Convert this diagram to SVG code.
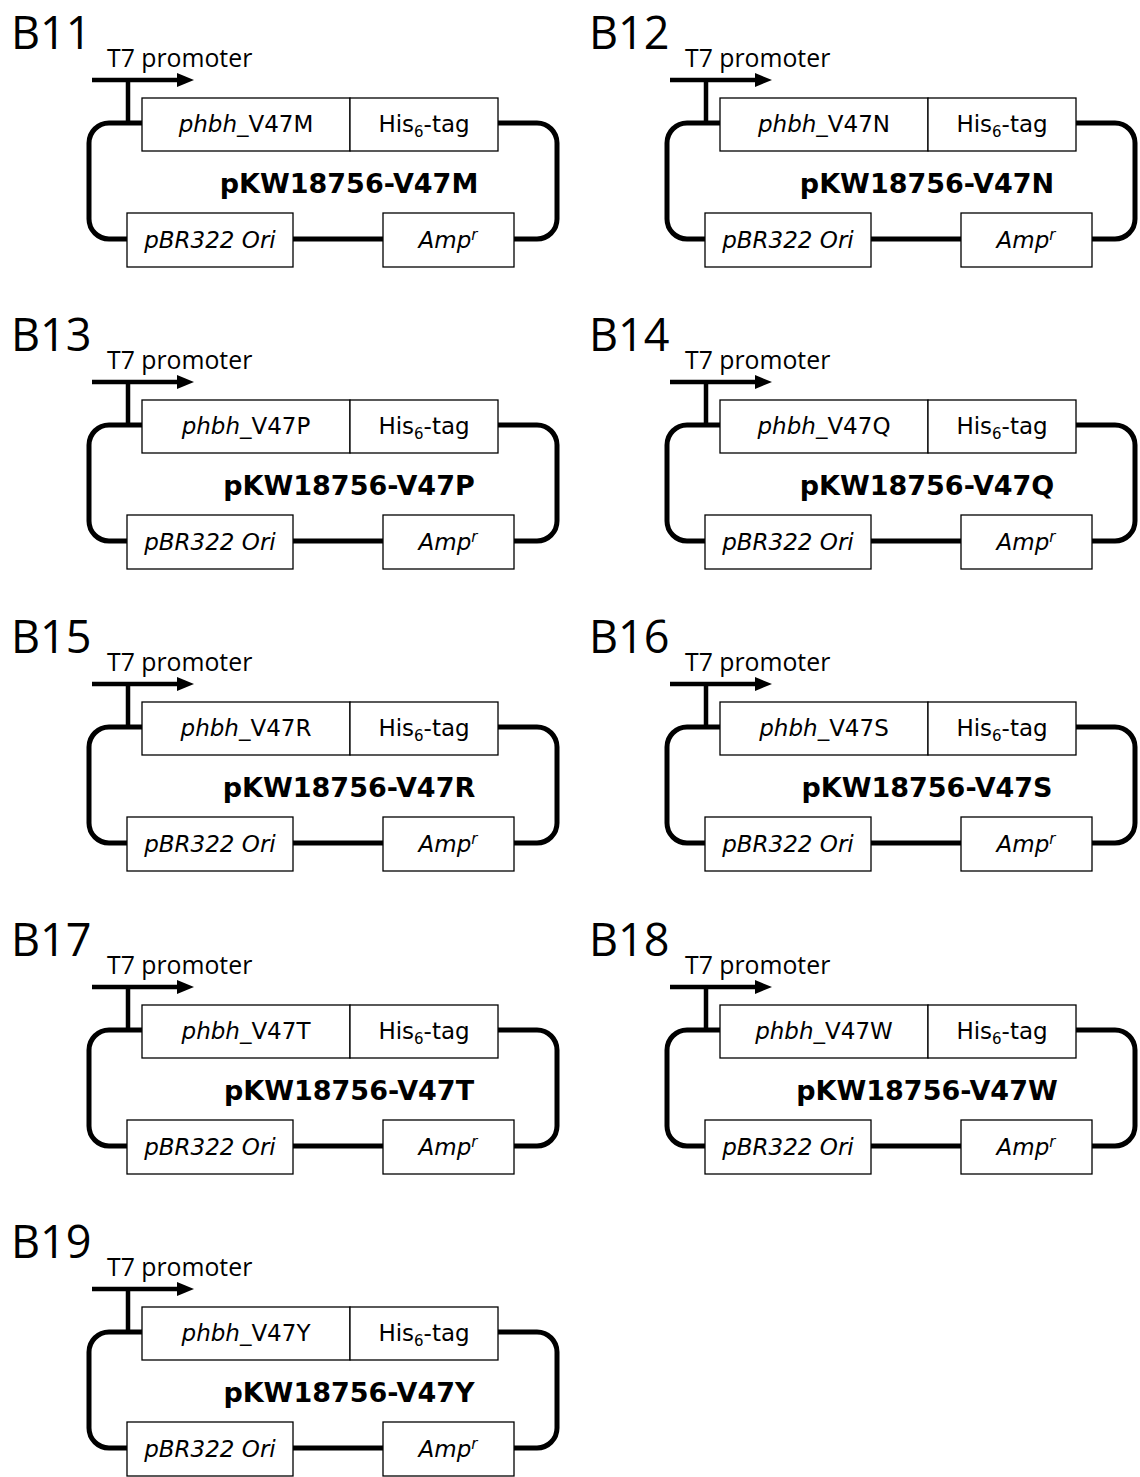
<svg xmlns="http://www.w3.org/2000/svg" width="1140" height="1477" viewBox="0 0 1140 1477">
<style>
.lbl{font-family:"Open Sans","Liberation Sans",sans-serif;font-size:45px;fill:#000}
.t7{font-family:"Open Sans","Liberation Sans",sans-serif;font-size:24.8px;fill:#000}
.bt{font-family:"DejaVu Sans","Liberation Sans",sans-serif;font-size:23px;fill:#000;text-anchor:middle}
.it{font-style:italic}
.ttl{font-family:"DejaVu Sans","Liberation Sans",sans-serif;font-size:27px;font-weight:bold;fill:#000;text-anchor:middle}
.box{fill:#fff;stroke:#000;stroke-width:1.3}
.loop{fill:none;stroke:#000;stroke-width:5}
.prom{fill:none;stroke:#000;stroke-width:4.5}
.head{fill:#000}
</style>
<defs>
<path id="loopPath" d="M142,123 H109 A20,20 0 0 0 89,143 V219 A20,20 0 0 0 109,239 H127 M293,239 H383 M514,239 H537 A20,20 0 0 0 557,219 V143 A20,20 0 0 0 537,123 H498"/>
<path id="promPath" d="M128,123 V80 M92,80 H180"/>
<path id="headPath" d="M177,73 L194,80 L177,87 Z"/>
</defs>

<g id="b11" transform="translate(0,0)">
<text class="lbl" x="11" y="49">B11</text>
<g id="b11-connectors"><use href="#loopPath" class="loop"/><use href="#promPath" class="prom"/><use href="#headPath" class="head"/></g>
<g id="b11-t7"><text class="t7" x="107" y="67">T7 promoter</text></g>
<g id="b11-gene"><rect class="box" x="142" y="98" width="208" height="53"/><text class="bt" x="246" y="132"><tspan class="it">phbh</tspan>_V47M</text></g>
<g id="b11-his"><rect class="box" x="350" y="98" width="148" height="53"/><text class="bt" x="424" y="132">His<tspan font-size="15" dy="5">6</tspan><tspan dy="-5">-tag</tspan></text></g>
<g id="b11-title"><text class="ttl" x="349" y="193">pKW18756-V47M</text></g>
<g id="b11-ori"><rect class="box" x="127" y="213" width="166" height="54"/><text class="bt it" x="210" y="248">pBR322 Ori</text></g>
<g id="b11-amp"><rect class="box" x="383" y="213" width="131" height="54"/><text class="bt it" x="448" y="248">Amp<tspan font-size="15" dy="-8">r</tspan></text></g>
</g>

<g id="b12" transform="translate(578,0)">
<text class="lbl" x="11" y="49">B12</text>
<g id="b12-connectors"><use href="#loopPath" class="loop"/><use href="#promPath" class="prom"/><use href="#headPath" class="head"/></g>
<g id="b12-t7"><text class="t7" x="107" y="67">T7 promoter</text></g>
<g id="b12-gene"><rect class="box" x="142" y="98" width="208" height="53"/><text class="bt" x="246" y="132"><tspan class="it">phbh</tspan>_V47N</text></g>
<g id="b12-his"><rect class="box" x="350" y="98" width="148" height="53"/><text class="bt" x="424" y="132">His<tspan font-size="15" dy="5">6</tspan><tspan dy="-5">-tag</tspan></text></g>
<g id="b12-title"><text class="ttl" x="349" y="193">pKW18756-V47N</text></g>
<g id="b12-ori"><rect class="box" x="127" y="213" width="166" height="54"/><text class="bt it" x="210" y="248">pBR322 Ori</text></g>
<g id="b12-amp"><rect class="box" x="383" y="213" width="131" height="54"/><text class="bt it" x="448" y="248">Amp<tspan font-size="15" dy="-8">r</tspan></text></g>
</g>

<g id="b13" transform="translate(0,302)">
<text class="lbl" x="11" y="49">B13</text>
<g id="b13-connectors"><use href="#loopPath" class="loop"/><use href="#promPath" class="prom"/><use href="#headPath" class="head"/></g>
<g id="b13-t7"><text class="t7" x="107" y="67">T7 promoter</text></g>
<g id="b13-gene"><rect class="box" x="142" y="98" width="208" height="53"/><text class="bt" x="246" y="132"><tspan class="it">phbh</tspan>_V47P</text></g>
<g id="b13-his"><rect class="box" x="350" y="98" width="148" height="53"/><text class="bt" x="424" y="132">His<tspan font-size="15" dy="5">6</tspan><tspan dy="-5">-tag</tspan></text></g>
<g id="b13-title"><text class="ttl" x="349" y="193">pKW18756-V47P</text></g>
<g id="b13-ori"><rect class="box" x="127" y="213" width="166" height="54"/><text class="bt it" x="210" y="248">pBR322 Ori</text></g>
<g id="b13-amp"><rect class="box" x="383" y="213" width="131" height="54"/><text class="bt it" x="448" y="248">Amp<tspan font-size="15" dy="-8">r</tspan></text></g>
</g>

<g id="b14" transform="translate(578,302)">
<text class="lbl" x="11" y="49">B14</text>
<g id="b14-connectors"><use href="#loopPath" class="loop"/><use href="#promPath" class="prom"/><use href="#headPath" class="head"/></g>
<g id="b14-t7"><text class="t7" x="107" y="67">T7 promoter</text></g>
<g id="b14-gene"><rect class="box" x="142" y="98" width="208" height="53"/><text class="bt" x="246" y="132"><tspan class="it">phbh</tspan>_V47Q</text></g>
<g id="b14-his"><rect class="box" x="350" y="98" width="148" height="53"/><text class="bt" x="424" y="132">His<tspan font-size="15" dy="5">6</tspan><tspan dy="-5">-tag</tspan></text></g>
<g id="b14-title"><text class="ttl" x="349" y="193">pKW18756-V47Q</text></g>
<g id="b14-ori"><rect class="box" x="127" y="213" width="166" height="54"/><text class="bt it" x="210" y="248">pBR322 Ori</text></g>
<g id="b14-amp"><rect class="box" x="383" y="213" width="131" height="54"/><text class="bt it" x="448" y="248">Amp<tspan font-size="15" dy="-8">r</tspan></text></g>
</g>

<g id="b15" transform="translate(0,604)">
<text class="lbl" x="11" y="49">B15</text>
<g id="b15-connectors"><use href="#loopPath" class="loop"/><use href="#promPath" class="prom"/><use href="#headPath" class="head"/></g>
<g id="b15-t7"><text class="t7" x="107" y="67">T7 promoter</text></g>
<g id="b15-gene"><rect class="box" x="142" y="98" width="208" height="53"/><text class="bt" x="246" y="132"><tspan class="it">phbh</tspan>_V47R</text></g>
<g id="b15-his"><rect class="box" x="350" y="98" width="148" height="53"/><text class="bt" x="424" y="132">His<tspan font-size="15" dy="5">6</tspan><tspan dy="-5">-tag</tspan></text></g>
<g id="b15-title"><text class="ttl" x="349" y="193">pKW18756-V47R</text></g>
<g id="b15-ori"><rect class="box" x="127" y="213" width="166" height="54"/><text class="bt it" x="210" y="248">pBR322 Ori</text></g>
<g id="b15-amp"><rect class="box" x="383" y="213" width="131" height="54"/><text class="bt it" x="448" y="248">Amp<tspan font-size="15" dy="-8">r</tspan></text></g>
</g>

<g id="b16" transform="translate(578,604)">
<text class="lbl" x="11" y="49">B16</text>
<g id="b16-connectors"><use href="#loopPath" class="loop"/><use href="#promPath" class="prom"/><use href="#headPath" class="head"/></g>
<g id="b16-t7"><text class="t7" x="107" y="67">T7 promoter</text></g>
<g id="b16-gene"><rect class="box" x="142" y="98" width="208" height="53"/><text class="bt" x="246" y="132"><tspan class="it">phbh</tspan>_V47S</text></g>
<g id="b16-his"><rect class="box" x="350" y="98" width="148" height="53"/><text class="bt" x="424" y="132">His<tspan font-size="15" dy="5">6</tspan><tspan dy="-5">-tag</tspan></text></g>
<g id="b16-title"><text class="ttl" x="349" y="193">pKW18756-V47S</text></g>
<g id="b16-ori"><rect class="box" x="127" y="213" width="166" height="54"/><text class="bt it" x="210" y="248">pBR322 Ori</text></g>
<g id="b16-amp"><rect class="box" x="383" y="213" width="131" height="54"/><text class="bt it" x="448" y="248">Amp<tspan font-size="15" dy="-8">r</tspan></text></g>
</g>

<g id="b17" transform="translate(0,907)">
<text class="lbl" x="11" y="49">B17</text>
<g id="b17-connectors"><use href="#loopPath" class="loop"/><use href="#promPath" class="prom"/><use href="#headPath" class="head"/></g>
<g id="b17-t7"><text class="t7" x="107" y="67">T7 promoter</text></g>
<g id="b17-gene"><rect class="box" x="142" y="98" width="208" height="53"/><text class="bt" x="246" y="132"><tspan class="it">phbh</tspan>_V47T</text></g>
<g id="b17-his"><rect class="box" x="350" y="98" width="148" height="53"/><text class="bt" x="424" y="132">His<tspan font-size="15" dy="5">6</tspan><tspan dy="-5">-tag</tspan></text></g>
<g id="b17-title"><text class="ttl" x="349" y="193">pKW18756-V47T</text></g>
<g id="b17-ori"><rect class="box" x="127" y="213" width="166" height="54"/><text class="bt it" x="210" y="248">pBR322 Ori</text></g>
<g id="b17-amp"><rect class="box" x="383" y="213" width="131" height="54"/><text class="bt it" x="448" y="248">Amp<tspan font-size="15" dy="-8">r</tspan></text></g>
</g>

<g id="b18" transform="translate(578,907)">
<text class="lbl" x="11" y="49">B18</text>
<g id="b18-connectors"><use href="#loopPath" class="loop"/><use href="#promPath" class="prom"/><use href="#headPath" class="head"/></g>
<g id="b18-t7"><text class="t7" x="107" y="67">T7 promoter</text></g>
<g id="b18-gene"><rect class="box" x="142" y="98" width="208" height="53"/><text class="bt" x="246" y="132"><tspan class="it">phbh</tspan>_V47W</text></g>
<g id="b18-his"><rect class="box" x="350" y="98" width="148" height="53"/><text class="bt" x="424" y="132">His<tspan font-size="15" dy="5">6</tspan><tspan dy="-5">-tag</tspan></text></g>
<g id="b18-title"><text class="ttl" x="349" y="193">pKW18756-V47W</text></g>
<g id="b18-ori"><rect class="box" x="127" y="213" width="166" height="54"/><text class="bt it" x="210" y="248">pBR322 Ori</text></g>
<g id="b18-amp"><rect class="box" x="383" y="213" width="131" height="54"/><text class="bt it" x="448" y="248">Amp<tspan font-size="15" dy="-8">r</tspan></text></g>
</g>

<g id="b19" transform="translate(0,1209)">
<text class="lbl" x="11" y="49">B19</text>
<g id="b19-connectors"><use href="#loopPath" class="loop"/><use href="#promPath" class="prom"/><use href="#headPath" class="head"/></g>
<g id="b19-t7"><text class="t7" x="107" y="67">T7 promoter</text></g>
<g id="b19-gene"><rect class="box" x="142" y="98" width="208" height="53"/><text class="bt" x="246" y="132"><tspan class="it">phbh</tspan>_V47Y</text></g>
<g id="b19-his"><rect class="box" x="350" y="98" width="148" height="53"/><text class="bt" x="424" y="132">His<tspan font-size="15" dy="5">6</tspan><tspan dy="-5">-tag</tspan></text></g>
<g id="b19-title"><text class="ttl" x="349" y="193">pKW18756-V47Y</text></g>
<g id="b19-ori"><rect class="box" x="127" y="213" width="166" height="54"/><text class="bt it" x="210" y="248">pBR322 Ori</text></g>
<g id="b19-amp"><rect class="box" x="383" y="213" width="131" height="54"/><text class="bt it" x="448" y="248">Amp<tspan font-size="15" dy="-8">r</tspan></text></g>
</g>
</svg>
